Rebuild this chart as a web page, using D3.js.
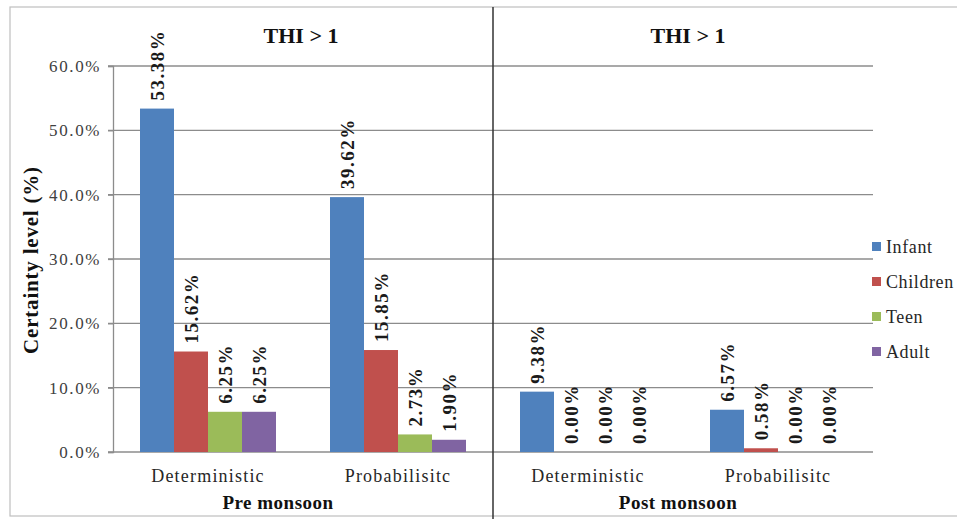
<!DOCTYPE html>
<html><head><meta charset="utf-8">
<script src="https://cdn.jsdelivr.net/npm/d3@7"></script>
<style>body{margin:0;background:#fff}svg{display:block}text{font-family:"Liberation Serif","Times New Roman",serif}</style>
</head><body><svg id="c" width="957" height="519"></svg>
<script>
const periods = ["Pre monsoon", "Post monsoon"];
const methods = ["Deterministic", "Probabilisitc"];
const series = ["Infant", "Children", "Teen", "Adult"];
const colors = ["#4F81BD", "#C0504D", "#9BBB59", "#8064A2"];
const panelTitles = ["THI > 1", "THI > 1"];
const yTicks = [0, 0.1, 0.2, 0.3, 0.4, 0.5, 0.6];
// values per category, order: Pre-Det, Pre-Prob, Post-Det, Post-Prob
const infant   = [0.5338, 0.3962, 0.0938, 0.0657];
const children = [0.1562, 0.1585, 0.0000, 0.0058];
const teen     = [0.0625, 0.0273, 0.0000, 0.0000];
const adult    = [0.0625, 0.0190, 0.0000, 0.0000];
const valueLabels = [
  ["53.38%", "39.62%", "9.38%", "6.57%"],
  ["15.62%", "15.85%", "0.00%", "0.58%"],
  ["6.25%", "2.73%", "0.00%", "0.00%"],
  ["6.25%", "1.90%", "0.00%", "0.00%"]
];
const seriesValues = [infant, children, teen, adult];

(function () {
const svg = d3.select("#c");
const pLeft = 113, pRight = 873, pTop = 66, pBottom = 452;
const cats = [];
periods.forEach(p => methods.forEach(m => cats.push(p + "|" + m)));

const x = d3.scaleBand().domain(cats).range([pLeft, pRight]).padding(0);
const xs = d3.scaleBand().domain(series).range([27, x.bandwidth() - 27]).padding(0);
const y = d3.scaleLinear().domain([0, 0.6]).range([pBottom, pTop]);

// outer border (right edge off-canvas)
svg.append("rect").attr("x", 10).attr("y", 7).attr("width", 960).attr("height", 509)
  .attr("fill", "none").attr("stroke", "#bfbfbf").attr("stroke-width", 1.2);

// gridlines
svg.append("g").selectAll("line").data(yTicks).join("line")
  .attr("x1", pLeft - 5).attr("x2", pRight)
  .attr("y1", d => y(d)).attr("y2", d => y(d))
  .attr("stroke", "#8c8c8c").attr("stroke-width", 1.3);

// y axis
const yAxis = d3.axisLeft(y).tickValues(yTicks).tickFormat(d => (d * 100).toFixed(1) + "%").tickSize(5).tickPadding(7);
const ga = svg.append("g").attr("transform", `translate(${pLeft},0)`).call(yAxis);
ga.select(".domain").attr("stroke", "#8c8c8c").attr("stroke-width", 1.3);
ga.selectAll(".tick line").attr("stroke", "#8c8c8c").attr("stroke-width", 1.3);
ga.selectAll(".tick text").attr("font-size", 17).attr("fill", "#404040")
  .attr("font-family", "Liberation Serif").style("letter-spacing", "1.6px");

// bars
cats.forEach((c, ci) => {
  const g = svg.append("g").attr("transform", `translate(${x(c)},0)`);
  series.forEach((s, si) => {
    const v = seriesValues[si][ci];
    g.append("rect").attr("x", xs(s)).attr("width", xs.bandwidth())
      .attr("y", y(v)).attr("height", y(0) - y(v)).attr("fill", colors[si]);
    const cx = xs(s) + xs.bandwidth() / 2;
    const ty = y(v) - 8;
    g.append("text").attr("transform", `translate(${cx},${ty}) rotate(-90)`)
      .attr("dy", "0.35em").attr("font-size", 19).attr("font-weight", "bold")
      .style("letter-spacing", "1.5px")
      .attr("fill", "#1a1a1a").text(valueLabels[si][ci]);
  });
});

// category labels
cats.forEach(c => {
  svg.append("text").attr("x", x(c) + x.bandwidth() / 2).attr("y", 482)
    .attr("text-anchor", "middle").attr("font-size", 18).attr("fill", "#262626")
    .style("letter-spacing", "1.2px").text(c.split("|")[1]);
});

// group labels & panel titles
periods.forEach((p, pi) => {
  const cx = x(cats[pi * 2]) + x.bandwidth() - (pi === 0 ? 25 : 5);
  svg.append("text").attr("x", cx).attr("y", 509).attr("text-anchor", "middle")
    .attr("font-size", 19).attr("font-weight", "bold").attr("fill", "#111")
    .style("letter-spacing", "0.5px").text(p);
  const tx = pi === 0 ? 301 : 688;
  svg.append("text").attr("x", tx).attr("y", 43).attr("text-anchor", "middle")
    .attr("font-size", 22).attr("font-weight", "bold").attr("fill", "#111")
    .text(panelTitles[pi]);
});

// divider
const divX = x(cats[2]);
svg.append("line").attr("x1", divX).attr("x2", divX).attr("y1", 7).attr("y2", 519)
  .attr("stroke", "#333").attr("stroke-width", 1.5);

// y axis title
svg.append("text").attr("transform", "translate(38,260) rotate(-90)")
  .attr("text-anchor", "middle").attr("font-size", 21).attr("font-weight", "bold")
  .style("letter-spacing", "0.8px")
  .attr("fill", "#111").text("Certainty level (%)");

// legend
const lg = svg.append("g");
series.forEach((s, i) => {
  const ly = 247 + i * 35;
  lg.append("rect").attr("x", 872).attr("y", ly - 5).attr("width", 9).attr("height", 9).attr("fill", colors[i]);
  lg.append("text").attr("x", 886).attr("y", ly).attr("dy", "0.35em").attr("font-size", 18)
    .attr("fill", "#262626").style("letter-spacing", "0.6px").text(s);
});
})();
</script></body></html>
